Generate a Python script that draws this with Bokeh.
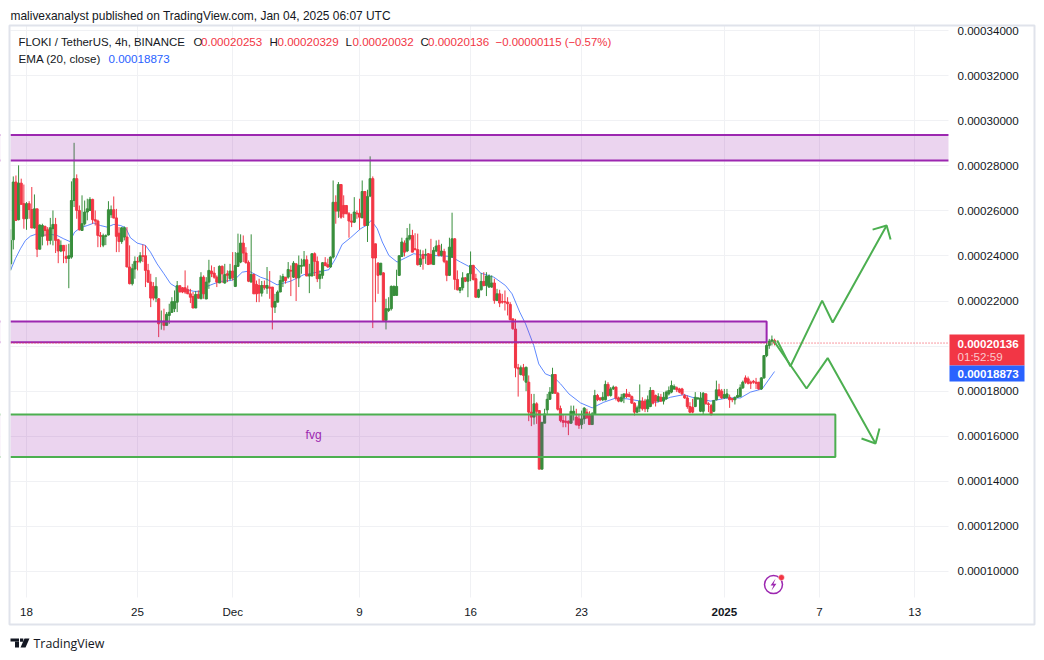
from bokeh.plotting import figure
from bokeh.embed import file_html
from bokeh.resources import INLINE
from bokeh.models import (ColumnDataSource, FixedTicker, Label, BoxAnnotation, PolyAnnotation)
from bokeh.core.properties import value

# Prices are in units of 0.00001 USDT; bars are 4h, index 0 = Nov 18 00:00
bar_start = -6
opens = [
23.65,24.72,27.28,25.61,27.23,26.32,25.65,26.32,26.06,25.24,
26.09,24.30,24.87,25.31,25.16,24.69,25.21,25.40,24.72,24.22,
24.47,23.98,23.89,23.95,26.46,27.43,26.02,25.13,25.43,25.95,
26.02,26.51,25.61,25.55,24.91,24.48,24.87,24.93,25.83,26.05,
25.69,25.01,24.64,24.84,24.84,23.51,22.77,23.42,23.76,23.77,
24.01,24.01,23.36,22.84,22.65,22.13,22.10,21.07,21.11,20.92,
21.36,21.50,21.66,21.95,22.68,22.59,22.59,22.50,22.32,22.20,
21.69,22.29,22.10,23.06,22.09,22.84,23.33,23.24,23.06,22.80,
23.54,22.80,23.21,22.99,23.33,22.65,23.54,23.73,24.57,24.13,
23.71,22.84,23.18,22.74,22.69,22.35,22.69,22.57,22.62,22.62,
21.73,21.95,22.40,22.88,23.06,23.06,23.36,23.06,23.65,23.03,
23.54,23.58,23.83,23.11,23.11,24.10,23.76,22.99,23.14,23.70,
23.61,23.51,23.95,26.38,25.99,27.17,26.24,26.24,25.87,25.55,
25.50,25.90,25.90,25.69,26.86,25.35,26.66,27.43,24.54,23.68,
23.17,23.25,21.14,21.58,21.66,22.25,22.25,23.14,23.98,24.57,
24.22,24.76,24.91,24.32,24.28,23.62,24.07,24.05,24.10,24.07,
23.62,24.22,24.47,24.02,24.20,23.77,23.14,23.95,24.76,22.96,
22.47,22.59,23.03,22.88,23.21,23.58,22.99,22.17,22.50,22.87,
22.69,22.62,22.62,22.80,22.03,22.32,21.98,21.98,21.95,21.85,
21.21,20.76,19.04,18.74,19.04,18.40,18.40,17.07,16.85,17.44,
17.14,14.54,16.58,17.17,17.64,17.91,18.74,17.91,17.23,16.70,
16.67,16.67,16.58,16.99,16.85,16.77,16.52,16.77,17.07,16.92,
16.52,16.99,17.81,17.70,17.62,17.62,18.30,17.81,18.10,18.18,
17.70,17.56,17.73,17.88,17.85,17.76,17.47,17.07,17.25,17.56,
17.56,17.22,17.32,18.03,17.81,17.56,17.73,17.56,17.66,17.88,
17.96,18.10,18.15,18.10,18.10,17.81,17.70,17.32,17.29,17.32,
17.66,17.11,17.11,17.88,17.44,17.36,17.11,17.62,18.06,18.00,
17.70,17.73,17.73,17.67,17.62,17.73,17.76,18.15,18.59,18.55,
18.40,18.44,18.40,18.40,18.10,18.59,19.58,20.03,20.22,20.253,
]
highs = [
25.18,27.53,27.57,28.02,27.43,27.17,26.39,26.43,27.06,26.73,
26.09,25.40,25.43,25.35,25.28,25.69,26.02,25.69,24.76,24.69,
24.47,24.50,24.54,27.31,29.02,27.62,26.24,26.69,26.46,26.54,
26.61,26.54,26.02,25.61,25.06,24.99,24.96,26.43,26.24,26.64,
26.09,25.28,25.28,25.31,25.28,24.47,23.65,23.98,23.95,24.17,
24.51,24.47,23.65,23.21,22.84,23.06,22.13,21.58,21.66,21.51,
21.88,22.17,22.47,22.89,22.69,22.62,23.36,22.69,22.54,22.40,
22.44,22.47,23.28,23.14,23.06,23.83,23.58,23.51,23.14,23.58,
23.58,23.65,23.36,23.65,24.17,24.17,24.99,24.96,24.91,24.39,
23.80,24.96,23.21,22.91,22.99,22.89,22.91,23.51,23.33,22.62,
22.32,22.47,23.14,23.21,23.06,23.73,23.58,23.77,23.68,24.02,
23.88,24.22,24.02,23.65,24.10,24.16,23.98,23.36,23.73,23.95,
23.88,23.98,27.35,26.69,27.28,27.17,26.69,26.24,25.95,25.87,
26.61,26.02,26.54,27.35,26.86,26.94,28.42,27.53,24.54,23.73,
23.68,23.28,22.10,22.17,22.69,22.69,23.39,24.02,24.81,24.69,
25.24,25.43,25.16,25.01,24.99,24.28,24.25,24.32,24.13,24.76,
24.39,24.69,24.72,24.54,24.32,23.80,24.81,25.92,24.79,23.36,
22.62,23.28,23.06,23.21,24.20,23.61,23.21,22.54,23.24,23.28,
23.28,23.18,23.14,22.99,22.54,22.50,22.32,22.47,22.17,21.95,
21.21,21.21,19.21,19.14,19.21,19.09,18.70,17.88,17.88,17.51,
17.14,16.62,17.22,17.88,18.18,19.04,18.74,17.96,17.36,16.99,
16.92,16.70,17.36,17.36,17.22,16.99,17.14,17.29,17.22,17.11,
17.07,18.06,17.88,17.73,17.96,18.47,18.40,18.18,18.25,18.21,
17.76,17.88,17.88,18.10,17.96,17.81,17.51,17.36,18.30,17.73,
17.66,17.81,18.18,18.06,17.85,17.91,17.88,17.96,18.03,18.21,
18.47,18.30,18.21,18.15,18.15,17.88,17.81,17.51,17.66,17.96,
17.73,17.96,17.96,17.91,17.51,17.44,17.59,18.47,18.33,18.10,
18.10,18.10,17.85,17.70,17.76,18.10,18.30,18.47,18.70,18.65,
18.47,18.50,18.59,18.40,18.62,19.58,20.22,20.32,20.47,20.329,
]
lows = [
23.36,24.29,25.55,25.58,26.29,25.21,25.16,25.65,25.24,25.21,
23.95,24.30,24.47,24.87,24.47,24.51,24.47,24.13,23.68,24.17,
23.68,23.68,22.57,23.88,26.17,25.65,25.13,25.13,25.35,25.58,
26.02,25.43,25.35,24.39,24.39,24.39,24.48,24.91,25.69,25.68,
24.17,24.17,24.54,24.69,23.51,22.74,22.69,22.99,23.36,23.68,
23.73,22.62,22.80,21.73,22.03,21.95,20.40,20.73,20.70,20.92,
20.99,21.47,21.51,21.51,22.40,22.35,22.32,22.32,21.91,21.69,
21.69,22.10,22.10,22.10,22.09,22.54,23.06,22.99,22.62,22.80,
22.80,22.77,22.84,22.91,22.91,22.62,23.51,23.68,23.73,23.65,
22.84,22.84,22.32,21.95,21.95,22.20,22.50,22.32,22.10,20.74,
21.47,21.95,22.40,22.62,22.77,22.99,22.22,23.02,22.00,22.62,
23.21,23.51,23.11,22.35,23.11,23.11,22.84,22.54,22.99,23.54,
23.48,23.48,23.88,25.43,25.69,25.65,25.69,25.87,24.81,25.28,
25.46,25.65,25.16,25.69,25.35,24.62,26.61,20.80,21.95,22.32,
23.14,21.11,20.74,21.51,21.58,22.22,22.25,23.11,23.98,23.98,
24.17,24.69,24.17,24.25,23.58,23.51,23.39,23.65,23.61,23.62,
23.61,24.17,23.98,23.98,23.68,22.88,23.11,23.92,22.50,22.47,
22.35,22.47,22.84,22.17,22.88,22.91,22.15,22.13,22.47,22.65,
22.22,22.59,22.59,21.88,22.00,21.73,21.88,21.58,21.36,21.14,
20.73,18.62,17.76,18.70,18.47,18.00,16.67,16.45,16.52,16.55,
14.54,14.54,16.58,16.99,17.62,17.88,17.88,17.14,16.62,16.40,
16.40,16.05,16.55,16.70,16.48,16.33,16.33,16.55,16.77,16.52,
16.52,16.96,17.56,17.56,17.56,17.59,17.76,17.76,18.06,17.59,
17.51,17.51,17.47,17.70,17.73,17.44,16.92,17.02,17.07,17.14,
17.07,17.07,17.29,17.41,17.32,17.51,17.53,17.41,17.62,17.81,
17.91,18.06,17.96,17.91,17.81,17.66,17.22,17.02,17.02,17.29,
17.62,17.07,16.96,17.41,17.07,16.92,17.07,17.59,17.73,17.66,
17.66,17.66,17.26,17.51,17.41,17.70,17.73,18.10,18.33,18.30,
18.10,18.33,18.10,18.06,18.06,18.55,19.51,19.88,20.03,20.032,
]
closes = [
24.69,27.28,25.58,27.23,26.29,25.65,26.32,26.06,25.24,26.09,
24.30,25.37,25.35,25.13,24.69,25.25,25.40,24.69,24.22,24.47,
24.22,23.89,24.01,26.46,27.43,26.02,25.16,25.43,25.95,26.09,
26.51,25.61,25.55,24.91,24.87,24.90,24.90,26.05,26.05,25.68,
24.87,24.64,25.25,25.25,23.51,22.77,23.43,23.76,23.73,24.01,
23.98,23.36,22.84,22.13,22.13,22.65,20.99,21.11,20.92,21.41,
21.50,21.97,21.98,22.68,22.40,22.40,22.40,22.32,22.17,21.69,
22.29,22.13,23.06,22.32,22.84,23.36,23.21,23.06,22.84,23.54,
23.21,23.18,23.14,23.33,23.03,23.58,24.13,24.57,24.13,23.71,
22.88,23.18,22.32,22.32,22.35,22.69,22.59,22.69,22.57,21.73,
21.98,22.40,22.91,23.09,22.91,23.40,23.33,23.68,23.03,23.58,
23.58,23.83,23.11,23.18,24.10,23.76,22.99,23.18,23.70,23.58,
23.51,23.95,26.38,25.99,27.17,25.72,25.87,25.87,25.55,25.50,
25.95,25.87,25.72,26.86,25.35,26.64,27.43,23.91,23.91,23.14,
23.68,21.14,21.66,21.66,22.65,22.65,22.65,24.01,24.62,24.17,
24.79,24.91,24.17,24.28,23.61,23.88,23.88,24.07,23.62,23.65,
24.25,24.44,24.02,24.22,23.76,23.14,24.39,24.76,22.96,22.50,
22.59,23.03,22.88,23.21,23.58,22.96,22.17,22.50,22.87,22.69,
23.11,23.11,22.80,22.03,22.32,21.91,21.95,21.95,21.88,21.17,
20.77,19.04,18.99,19.04,18.70,19.06,17.07,16.85,17.44,17.11,
14.54,16.62,16.99,17.64,17.96,18.74,17.91,17.20,16.70,16.62,
16.62,16.58,17.11,17.11,16.51,16.48,16.77,17.25,16.82,16.52,
16.99,17.81,17.62,17.62,17.73,18.30,17.81,18.10,18.18,17.69,
17.56,17.73,17.88,17.76,17.76,17.47,17.07,17.26,17.56,17.22,
17.22,17.62,18.03,17.47,17.56,17.76,17.56,17.73,17.96,18.03,
18.25,18.21,18.06,17.96,17.88,17.70,17.32,17.07,17.07,17.73,
17.70,17.70,17.91,17.44,17.41,16.96,17.59,18.06,17.81,17.70,
17.85,17.88,17.62,17.62,17.73,17.81,18.15,18.40,18.40,18.35,
18.35,18.40,18.35,18.10,18.59,19.58,20.03,20.22,20.28,20.136,
]
assert len(opens) == len(highs) == len(lows) == len(closes)

ema_x = [-6.05,-4.2,-2.3,-0.4,1.5,3.4,5.9,9.1,11.6,14.1,16.4,18.2,20.4,23,25.5,28,30.5,33,35.6,37.5,39.3,41.9,45,46.9,49.4,52,54.5,57,59.5,63.3,65.8,68.3,70.9,73.4,77.2,79.1,81.6,84.1,86.6,
         88.5,91,94.8,99.9,104.9,110,114.4,116.9,119.4,122.6,126.4,128.9,130.4,132.7,134.6,137.1,140.2,143.4,146.5,150.3,154.1,160.4,164.2,167.3,169.2,171.8,176.8,181.2,183.7,186.6,
         188.8,191.9,193.8,196.3,199.5,202,205.2,209.6,214,218.4,222.8,227.2,232.3,238.6,243.6,248.7,251.8,258.8,265.1,270.1,273.9,278.3,283]
ema_y = [23.36,23.88,24.32,24.69,24.88,24.96,24.91,24.96,24.91,24.76,24.64,25.06,25.25,25.35,25.46,25.35,25.28,25.40,25.35,25.25,24.81,24.57,24.47,24.17,23.65,23.21,22.77,22.59,22.54,22.43,22.43,22.65,22.77,22.87,22.91,22.99,23.28,23.33,23.18,
         23.06,22.96,22.72,22.88,23.17,23.28,23.39,23.88,24.51,24.81,25.21,25.38,25.58,25.21,24.62,24.02,23.73,23.92,24.10,24.02,24.02,23.98,23.73,23.54,23.57,23.24,23.06,22.69,22.32,21.51,
         20.99,20.03,19.21,18.77,18.62,18.33,17.88,17.48,17.26,17.51,17.69,17.66,17.56,17.51,17.73,17.85,17.73,17.56,17.70,17.70,17.96,18.10,18.873]

price_ticks = [10,12,14,16,18,20,22,24,26,28,30,32,34]
price_labels = ["0.00010000","0.00012000","0.00014000","0.00016000","0.00018000","0.00020000","0.00022000",
                "0.00024000","0.00026000","0.00028000","0.00030000","0.00032000","0.00034000"]
time_ticks = [0,42,78,126,168,210,264,300,336]
time_labels = ["18","25","Dec","9","16","23","2025","7","13"]

zone_top = [29.37, 28.24]
zone_mid = [21.09, 20.17]
zone_fvg = [16.97, 15.08]
zone_mid_end = 280
zone_fvg_end = 306
fvg_label = "fvg"

up_path_x = [284,289,301,305,325.4]
up_path_y = [20.25,19.10,22.02,21.05,25.35]
up_head_x = [320.1,325.4,326.9]
up_head_y = [25.17,25.35,24.73]
down_path_x = [282.6,295.1,303.1,321.2]
down_path_y = [20.25,18.12,19.47,15.68]
down_head_x = [315.9,321.2,322.7]
down_head_y = [15.90,15.68,16.34]

last_price = 20.136
ema_last = 18.873

# pane limits inside the full range of the figure
full_x = (-9.84, 382.1)
full_y = (6.406, 35.335)
pane_x = (-6.05, 348.8)
pane_y = (8.85, 34.23)

GREEN = "#388e3c"
RED = "#f23645"
PURPLE = "#9c27b0"
LINEGREEN = "#4caf50"
BLUE = "#2962ff"
INK = "#131722"
FONT = "Liberation Sans"

W, H = 1036, 652
p = figure(width=W, height=H, frame_width=W, frame_height=H, output_backend="svg", toolbar_location=None,
           x_range=full_x, y_range=full_y,
           min_border_left=0, min_border_right=0, min_border_top=0, min_border_bottom=0,
           x_axis_location="below", y_axis_location="right", background_fill_color="white",
           border_fill_color="white")
p.outline_line_color = None

ax = p.yaxis[0]
ax.ticker = FixedTicker(ticks=price_ticks)
ax.major_label_overrides = dict(zip(price_ticks, price_labels))
ax.axis_line_color = None
ax.major_tick_line_color = None
ax.minor_tick_line_color = None
ax.major_tick_out = 0
ax.major_tick_in = 0
ax.major_label_standoff = -79
ax.major_label_text_font = FONT
ax.major_label_text_font_size = "11.6px"
ax.major_label_text_color = INK

bx = p.xaxis[0]
bx.ticker = FixedTicker(ticks=time_ticks)
tick_over = dict(zip(time_ticks, time_labels))
tick_over[264] = ""
bx.major_label_overrides = tick_over
bx.axis_line_color = None
bx.major_tick_line_color = None
bx.minor_tick_line_color = None
bx.major_tick_out = 0
bx.major_tick_in = 0
bx.major_label_standoff = -48
bx.major_label_text_font = FONT
bx.major_label_text_font_size = "11.6px"
bx.major_label_text_color = INK

for g, t in ((p.xgrid[0], time_ticks), (p.ygrid[0], price_ticks)):
    g.ticker = FixedTicker(ticks=t)
    g.grid_line_color = "#f0f1f4"
    g.grid_line_width = 1

idx = [bar_start + i for i in range(len(opens))]
src = ColumnDataSource(dict(x=idx, o=opens, h=highs, l=lows, c=closes,
                            top=[max(a, b) for a, b in zip(opens, closes)],
                            bot=[min(a, b) for a, b in zip(opens, closes)],
                            col=[GREEN if c >= o else RED for o, c in zip(opens, closes)]))
p.line(ema_x, ema_y, line_color=BLUE, line_width=1, line_alpha=0.75)
p.segment("x", "h", "x", "l", source=src, line_color="col", line_width=1)
p.vbar("x", width=0.8, top="top", bottom="bot", source=src, fill_color="col", line_color="col", line_width=1)

# drawn zones
for left, right, (t, b), col in ((-40, 420, zone_top, PURPLE), (-40, zone_mid_end, zone_mid, PURPLE),
                                 (-40, zone_fvg_end, zone_fvg, LINEGREEN)):
    p.quad(left=left, right=right, top=t, bottom=b, fill_color=PURPLE, fill_alpha=0.2,
           line_color=col, line_width=2)

# last-price dotted line
p.line(list(pane_x), [last_price, last_price], line_color=RED, line_width=1, line_dash="1 2")

# blank margins round the pane
outer_x = (-60, 440)
outer_y = (0, 60)
p.quad(left=outer_x[0], right=pane_x[0], top=outer_y[1], bottom=outer_y[0], fill_color="white", line_color=None)
p.quad(left=pane_x[1], right=outer_x[1], top=outer_y[1], bottom=outer_y[0], fill_color="white", line_color=None)
p.quad(left=outer_x[0], right=outer_x[1], top=outer_y[1], bottom=pane_y[1], fill_color="white", line_color=None)
p.quad(left=outer_x[0], right=outer_x[1], top=pane_y[0], bottom=outer_y[0], fill_color="white", line_color=None)

p.text([108.6], [16.05], text=[fvg_label], text_color=PURPLE, text_font=value(FONT), text_font_size="12px",
       text_align="center", text_baseline="middle")

for xs, ys in ((up_path_x, up_path_y), (up_head_x, up_head_y), (down_path_x, down_path_y), (down_head_x, down_head_y)):
    p.line(xs, ys, line_color=LINEGREEN, line_width=2)

# source icon
p.scatter([282.6], [9.42], marker="circle", size=18, fill_color=None, line_color=PURPLE, line_width=1.5)
p.patch([283.4,281.5,282.6,281.8,283.7,282.6], [9.69,9.38,9.38,9.15,9.46,9.46], fill_color=PURPLE, line_color=None)
p.scatter([285.6], [9.73], marker="circle", size=6, fill_color=RED, line_color="white", line_width=0.5)

def label(x, y, text, color=INK, size="11.6px", style="normal", align="left", font=FONT):
    p.add_layout(Label(x=x, y=y, x_units="canvas", y_units="canvas", text=text, text_color=color,
                       text_font=font, text_font_size=size, text_font_style=style, text_align=align,
                       text_baseline="middle", level="overlay"))

def box(l, r, t, b, fill=None, line=None, lw=1):
    p.add_layout(BoxAnnotation(left=l, right=r, top=t, bottom=b,
                               left_units="canvas", right_units="canvas", top_units="canvas", bottom_units="canvas",
                               fill_color=fill, fill_alpha=1 if fill else 0, line_color=line,
                               line_width=lw, line_alpha=1 if line else 0, level="overlay", editable=False))

# outer border
box(9, 1034, 25, 624, line="#e0e3eb", lw=2)

# price tags
box(949, 1024, 334, 365, fill=RED)
box(949, 1024, 365, 381, fill=BLUE)
label(957, 343, "0.00020136", "white", style="bold")
label(957, 356, "01:52:59", "#fbc8cd")
label(957, 373, "0.00018873", "white", style="bold")

# header
label(10, 15, "malivexanalyst published on TradingView.com, Jan 04, 2025 06:07 UTC", size="11.95px")
label(18, 41, "FLOKI / TetherUS, 4h, BINANCE", size="11.45px")
label(193, 41, "O")
label(200.5, 41, "0.00020253", RED)
label(269, 41, "H")
label(277, 41, "0.00020329", RED)
label(345, 41, "L")
label(352, 41, "0.00020032", RED)
label(420, 41, "C")
label(427.5, 41, "0.00020136", RED)
label(495, 41, "\u22120.00000115 (\u22120.57%)", RED, size="11.4px")
label(18, 58, "EMA (20, close)")
label(108, 58, "0.00018873", BLUE)

# bold year tick
p.add_layout(Label(x=264, x_units="data", y=611, y_units="canvas", text="2025", text_color=INK,
                   text_font=FONT, text_font_size="11.6px", text_font_style="bold",
                   text_align="center", text_baseline="middle", level="overlay"))

# footer logo and wordmark
box(10, 18.5, 638, 641, fill=INK)
box(14.5, 18.5, 641, 647, fill=INK)
p.add_layout(PolyAnnotation(xs=[24, 29, 25, 20], ys=[638, 638, 647, 647],
                            xs_units="canvas", ys_units="canvas", fill_color=INK, fill_alpha=1, line_color=None, level="overlay"))
p.add_layout(PolyAnnotation(xs=[19.5, 22.8, 22.8, 19.5], ys=[638, 638, 641.3, 641.3],
                            xs_units="canvas", ys_units="canvas", fill_color=INK, fill_alpha=1, line_color=None, level="overlay"))
label(33, 643, "TradingView", size="12.4px", font="Open Sans")

open("out.html", "w").write(file_html(p, INLINE))
